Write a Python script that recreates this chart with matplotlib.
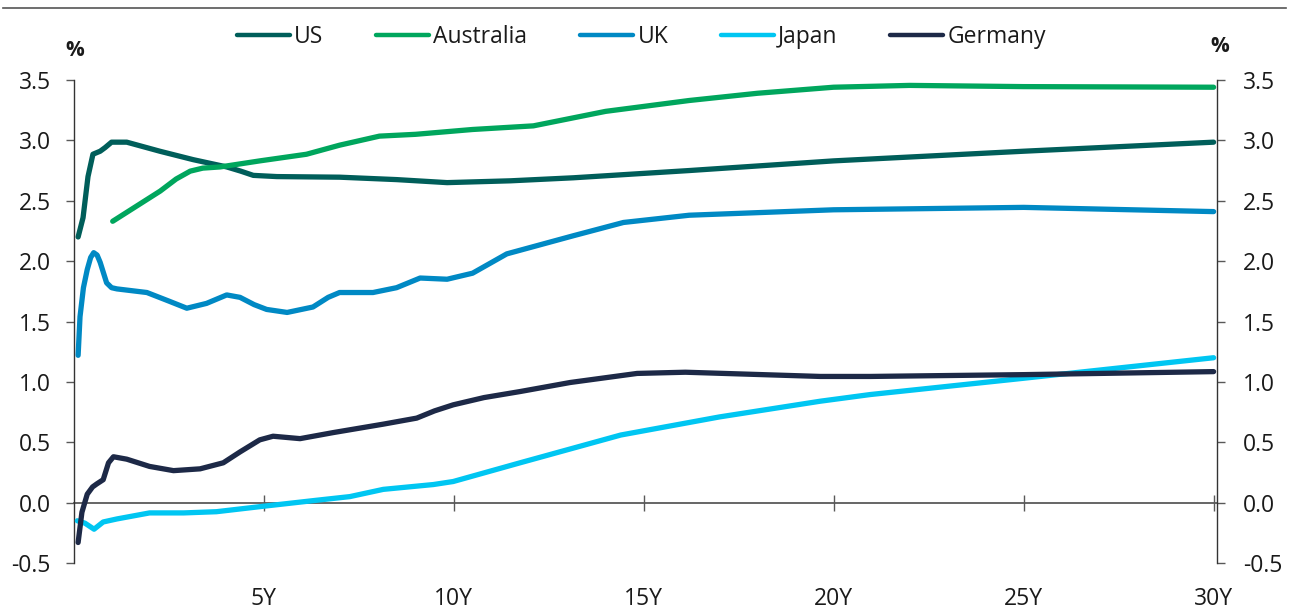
import matplotlib
matplotlib.use("Agg")
import matplotlib.pyplot as plt

plt.rcParams['font.family'] = ['Open Sans', 'DejaVu Sans']

# Data (tenor in years, yield in %)
us_x = [0.12, 0.25, 0.38, 0.51, 0.7, 0.83, 1.0, 1.4, 2.27, 3.15, 4.03, 4.4, 4.73, 5.35, 7.0, 8.5, 9.83, 11.5, 13.15, 16.2, 20.0, 25.0, 30.0]
us_y = [2.20, 2.36, 2.70, 2.885, 2.91, 2.94, 2.985, 2.985, 2.91, 2.84, 2.78, 2.745, 2.71, 2.70, 2.695, 2.675, 2.65, 2.665, 2.69, 2.75, 2.83, 2.91, 2.985]

au_x = [1.03, 2.28, 2.7, 3.07, 3.4, 3.86, 4.9, 6.13, 7.0, 8.05, 9.0, 10.5, 12.1, 14.0, 16.2, 18.0, 20.0, 22.0, 25.0, 30.0]
au_y = [2.33, 2.58, 2.68, 2.745, 2.77, 2.78, 2.83, 2.885, 2.96, 3.035, 3.05, 3.09, 3.12, 3.24, 3.33, 3.39, 3.44, 3.455, 3.445, 3.44]

uk_x = [0.12, 0.17, 0.26, 0.36, 0.45, 0.53, 0.62, 0.7, 0.8, 0.87, 1.0, 1.14, 1.93, 2.5, 2.98, 3.5, 4.03, 4.38, 4.75, 5.08, 5.62, 6.3, 6.7, 7.0, 7.88, 8.5, 9.12, 9.83, 10.5, 11.4, 13.15, 14.47, 16.2, 20.0, 25.0, 30.0]
uk_y = [1.22, 1.54, 1.78, 1.93, 2.03, 2.07, 2.05, 1.99, 1.89, 1.82, 1.78, 1.77, 1.74, 1.67, 1.61, 1.65, 1.72, 1.70, 1.64, 1.60, 1.575, 1.62, 1.70, 1.74, 1.74, 1.78, 1.86, 1.85, 1.90, 2.06, 2.21, 2.32, 2.38, 2.425, 2.445, 2.41]

jp_x = [0.1, 0.3, 0.54, 0.78, 1.14, 2.0, 2.9, 3.76, 4.99, 6.4, 7.27, 8.15, 9.47, 9.99, 11.75, 14.4, 17.0, 19.65, 20.96, 25.0, 30.0]
jp_y = [-0.15, -0.17, -0.22, -0.16, -0.135, -0.085, -0.085, -0.075, -0.03, 0.02, 0.05, 0.11, 0.15, 0.175, 0.33, 0.56, 0.71, 0.84, 0.895, 1.03, 1.20]

de_x = [0.12, 0.22, 0.36, 0.5, 0.61, 0.78, 0.84, 0.92, 1.05, 1.4, 2.0, 2.63, 3.33, 3.94, 4.38, 4.9, 5.25, 5.96, 6.83, 8.15, 9.03, 9.5, 9.99, 10.8, 11.75, 13.07, 14.83, 16.1, 19.65, 20.96, 25.0, 30.0]
de_y = [-0.33, -0.08, 0.07, 0.13, 0.155, 0.19, 0.25, 0.33, 0.38, 0.36, 0.30, 0.265, 0.28, 0.33, 0.42, 0.52, 0.55, 0.53, 0.58, 0.65, 0.70, 0.76, 0.81, 0.87, 0.92, 0.995, 1.07, 1.08, 1.045, 1.045, 1.06, 1.085]

series = [
    ("US", us_x, us_y, "#005e5a"),
    ("Australia", au_x, au_y, "#00a65d"),
    ("UK", uk_x, uk_y, "#0089c4"),
    ("Japan", jp_x, jp_y, "#00c6f2"),
    ("Germany", de_x, de_y, "#1d2947"),
]

x_ticks = [5, 10, 15, 20, 25, 30]
x_labels = ["5Y", "10Y", "15Y", "20Y", "25Y", "30Y"]
y_ticks = [-0.5, 0.0, 0.5, 1.0, 1.5, 2.0, 2.5, 3.0, 3.5]

text_color = "#1a1a1a"
axis_color = "#595959"
fs = 16.5

fig = plt.figure(figsize=(12.95, 6.10), dpi=100)
ax = fig.add_axes([0.0568, 0.0770, 0.8830, 0.7919])

for name, xs, ys, c in series:
    ax.plot(xs, ys, color=c, lw=3.8, label=name, solid_capstyle='round', solid_joinstyle='round', zorder=3)

ax.set_xlim(0, 30.09)
ax.set_ylim(-0.5, 3.5)

ax.spines['top'].set_visible(False)
ax.spines['right'].set_visible(False)
ax.spines['bottom'].set_position(('data', 0))
ax.spines['bottom'].set_color(axis_color)
ax.spines['bottom'].set_linewidth(1.3)
ax.spines['bottom'].set_zorder(2)
ax.spines['left'].set_color("#333333")
ax.spines['left'].set_linewidth(1.0)

ax.set_xticks(x_ticks)
ax.set_xticklabels(x_labels)
ax.tick_params(axis='x', direction='inout', length=11.5, width=1.0, color=axis_color,
               pad=55, labelsize=fs, labelcolor=text_color)
ax.set_yticks(y_ticks)
ax.set_yticklabels([f"{v:.1f}" for v in y_ticks])
ax.tick_params(axis='y', direction='out', length=5.5, width=1.0, color=axis_color,
               pad=11, labelsize=fs, labelcolor=text_color)

ax2 = ax.twinx()
ax2.set_ylim(-0.5, 3.5)
ax2.set_yticks(y_ticks)
ax2.set_yticklabels([f"{v:.1f}" for v in y_ticks])
for s in ['top', 'left', 'bottom']:
    ax2.spines[s].set_visible(False)
ax2.spines['right'].set_color("#333333")
ax2.spines['right'].set_linewidth(1.0)
ax2.tick_params(axis='y', direction='out', length=5.5, width=1.0, color=axis_color,
                pad=13, labelsize=fs, labelcolor=text_color)

fig.text(75 / 1295, 1 - 51 / 610, "%", ha='center', va='center', fontsize=15, fontweight='bold', color=text_color)
fig.text(1220 / 1295, 1 - 47 / 610, "%", ha='center', va='center', fontsize=15, fontweight='bold', color=text_color)

# top rule
fig.add_artist(plt.Line2D([3 / 1295, 1286 / 1295], [1 - 7.5 / 610, 1 - 7.5 / 610],
                          transform=fig.transFigure, color="#555555", lw=1.2))

handles, labels = ax.get_legend_handles_labels()
leg = fig.legend(handles, labels, loc='center', bbox_to_anchor=(641.5 / 1295, 1 - 37 / 610),
                 ncol=5, frameon=False, fontsize=fs, handlelength=2.3, handletextpad=0.2,
                 columnspacing=2.3, borderaxespad=0, borderpad=0)
for t in leg.get_texts():
    t.set_color(text_color)
for h in leg.legend_handles:
    h.set_linewidth(3.2)

fig.savefig("out.png", dpi=100)
